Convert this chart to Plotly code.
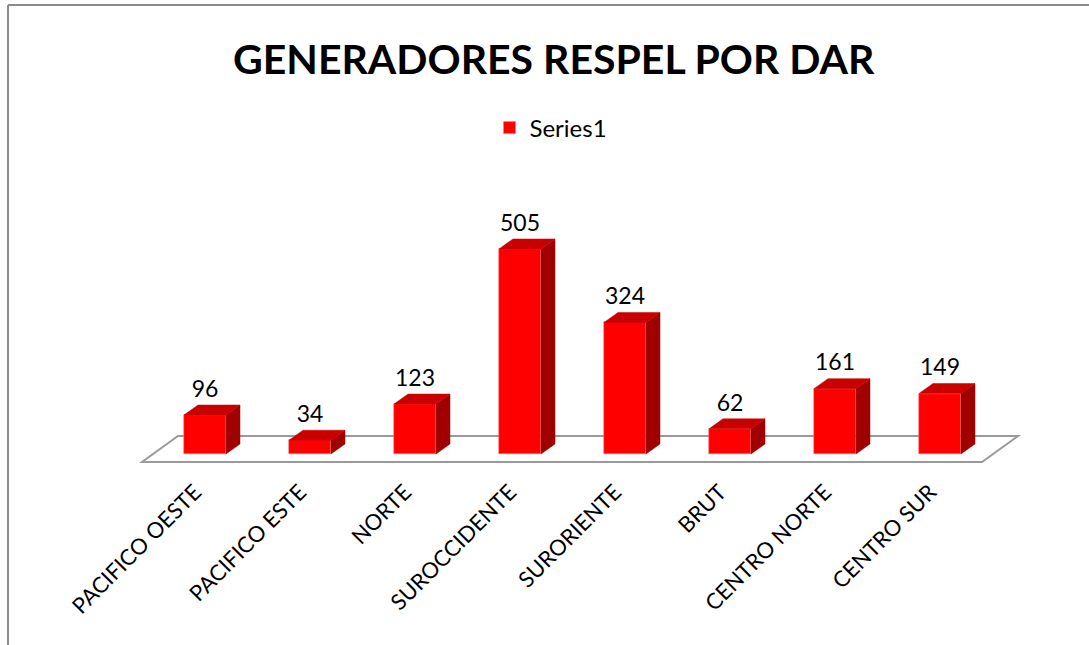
import plotly.graph_objects as go

categories = ["PACIFICO OESTE", "PACIFICO ESTE", "NORTE", "SUROCCIDENTE",
              "SURORIENTE", "BRUT", "CENTRO NORTE", "CENTRO SUR"]
values = [96, 34, 123, 505, 324, 62, 161, 149]
series_name = "Series1"
title_text = "GENERADORES RESPEL POR DAR"

# ---- layout geometry (pixels) ----
W, H = 1089, 645
ML, MR, MT, MB = 130, 59, 100, 175
PW, PH = W - ML - MR, H - MT - MB
STEP = 105.0          # px per category
X0PX = 205.0          # px of first category centre
K = 0.406             # px per value unit
BASEPX = 454.0        # px of value 0

def xr_from_px(px):
    return (px - X0PX) / STEP

def yv_from_px(py):
    return (BASEPX - py) / K

def paper_x(px):
    return (px - ML) / PW

def paper_y(py):
    return (H - MB - py) / PH

# 3D look parameters (in axis units)
half_w = 21 / STEP
dx = 14 / STEP
dy = 10 / K

xs = list(range(len(categories)))

fig = go.Figure()

# floor parallelogram (drawn below the traces)
fx0, fx1 = xr_from_px(142), xr_from_px(982)
fdx = 36 / STEP
fyf, fyb = yv_from_px(462), yv_from_px(436)
floor_path = (f"M {fx0},{fyf} L {fx1},{fyf} L {fx1 + fdx},{fyb} "
              f"L {fx0 + fdx},{fyb} Z")
fig.add_shape(type="path", xref="x", yref="y", path=floor_path,
              fillcolor="white", line=dict(color="#9a9a9a", width=2),
              layer="below")

# front faces
fig.add_trace(go.Bar(
    x=xs, y=values, width=2 * half_w, name=series_name,
    marker=dict(color="#FF0000", line=dict(color="#ff8080", width=0.6)),
    showlegend=True))

# side faces
sx, sy = [], []
for x, v in zip(xs, values):
    r = x + half_w
    sx += [r, r + dx, r + dx, r, r, None]
    sy += [0, dy, v + dy, v, 0, None]
fig.add_trace(go.Scatter(x=sx, y=sy, mode="lines", fill="toself",
                         fillcolor="#A00000", line=dict(color="#A00000", width=0.5),
                         hoverinfo="skip", showlegend=False))

# top faces
tx, ty = [], []
for x, v in zip(xs, values):
    l, r = x - half_w, x + half_w
    tx += [l, r, r + dx, l + dx, l, None]
    ty += [v, v, v + dy, v + dy, v, None]
fig.add_trace(go.Scatter(x=tx, y=ty, mode="lines", fill="toself",
                         fillcolor="#C80000", line=dict(color="#C80000", width=0.5),
                         hoverinfo="skip", showlegend=False))

# data labels
fig.add_trace(go.Scatter(
    x=xs, y=[v + dy + 6 for v in values], mode="text",
    text=[str(v) for v in values], textposition="top center",
    textfont=dict(family="Lato", size=23, color="black"),
    cliponaxis=False, hoverinfo="skip", showlegend=False))

# chart frame (left and top border)
fig.add_shape(type="line", xref="paper", yref="paper",
              x0=paper_x(8), x1=paper_x(8), y0=paper_y(5), y1=paper_y(H + 5),
              line=dict(color="#8c8c8c", width=2))
fig.add_shape(type="line", xref="paper", yref="paper",
              x0=paper_x(8), x1=paper_x(W + 5), y0=paper_y(5), y1=paper_y(5),
              line=dict(color="#8c8c8c", width=2))

fig.add_annotation(text=title_text, xref="paper", yref="paper",
                   x=paper_x(554), y=paper_y(58), xanchor="center", yanchor="middle",
                   showarrow=False,
                   font=dict(family="Lato", size=41, color="black", weight="bold"))

fig.update_layout(
    width=W, height=H,
    margin=dict(l=ML, r=MR, t=MT, b=MB, pad=0),
    paper_bgcolor="white", plot_bgcolor="white",
    font=dict(family="Lato", color="black"),
    showlegend=True,
    legend=dict(x=paper_x(551), y=paper_y(128), xanchor="center", yanchor="middle",
                orientation="h", font=dict(family="Lato", size=24, color="black"),
                bgcolor="rgba(0,0,0,0)"),
    xaxis=dict(range=[xr_from_px(ML), xr_from_px(W - MR)],
               tickmode="array", tickvals=xs, ticktext=categories,
               tickangle=-45, tickfont=dict(family="Lato", size=22, color="black"),
               ticklabelshift=-10, ticklabelstandoff=4,
               showgrid=False, zeroline=False, showline=False, ticks=""),
    yaxis=dict(range=[yv_from_px(H - MB), yv_from_px(MT)], visible=False,
               showgrid=False, zeroline=False),
    bargap=0,
)

fig.write_html("out.html", config={"displayModeBar": False},
               post_script="document.body.style.margin='0';document.body.style.padding='0';")
